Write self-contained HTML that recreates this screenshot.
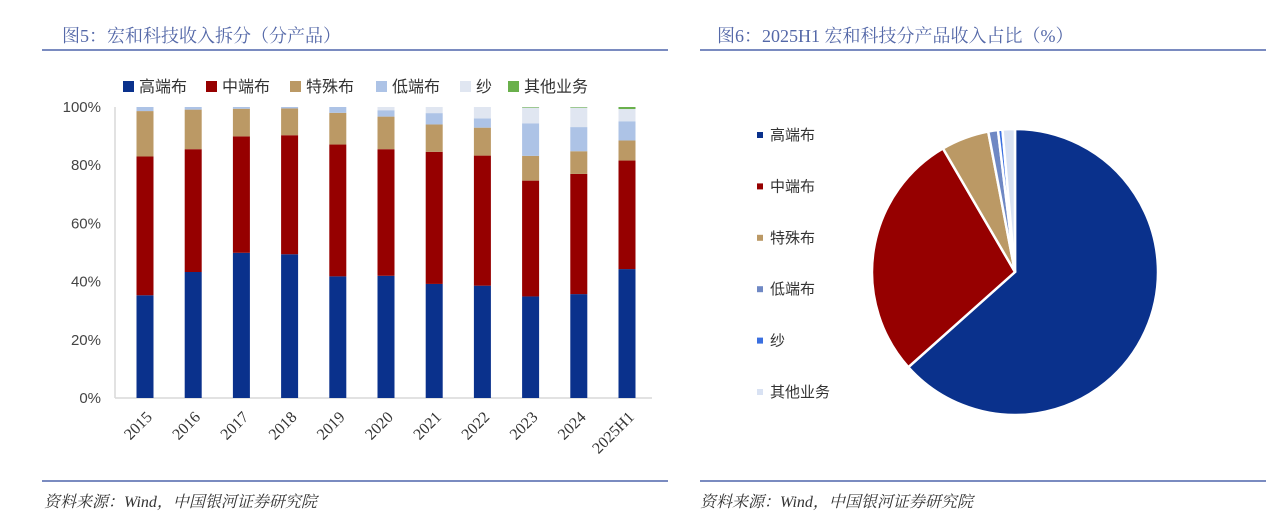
<!DOCTYPE html>
<html><head><meta charset="utf-8">
<style>
body{margin:0;width:1266px;height:528px;background:#fff;overflow:hidden;position:relative;font-family:"Liberation Serif","Noto Serif CJK SC",serif}
.t{position:absolute;color:#5468a8;font-size:18px;font-family:"Liberation Serif","Noto Serif CJK SC",serif}
.ln{position:absolute;height:2px;background:#7a8bc0}
.src{position:absolute;font-style:italic;font-size:16px;color:#333;font-family:"Liberation Serif","Noto Serif CJK SC",serif}
svg{position:absolute;left:0;top:0}
</style></head><body>
<div class="t" style="left:62px;top:22px">图5：宏和科技收入拆分（分产品）</div>
<div class="ln" style="left:42px;top:49px;width:626px"></div>
<div class="t" style="left:717px;top:22px">图6：2025H1 宏和科技分产品收入占比（%）</div>
<div class="ln" style="left:700px;top:49px;width:566px"></div>
<div class="ln" style="left:42px;top:480px;width:626px"></div>
<div class="ln" style="left:700px;top:480px;width:566px"></div>
<div class="src" style="left:44px;top:489px">资料来源：Wind，中国银河证券研究院</div>
<div class="src" style="left:700px;top:489px">资料来源：Wind，中国银河证券研究院</div>
<svg id="c" width="1266" height="528"></svg>
<script>
const categories=['2015','2016','2017','2018','2019','2020','2021','2022','2023','2024','2025H1'];
const seriesNames=['高端布','中端布','特殊布','低端布','纱','其他业务'];
const high=[35.3,43.3,49.9,49.4,41.8,42.0,39.2,38.6,34.9,35.7,44.3];
const mid=[47.7,42.2,40.0,40.9,45.3,43.5,45.4,44.7,39.8,41.3,37.3];
const special=[15.6,13.6,9.5,9.2,10.9,11.2,9.4,9.6,8.5,7.8,6.9];
const low=[1.4,0.9,0.6,0.5,2.0,2.2,3.9,3.2,11.2,8.3,6.6];
const yarn=[0,0,0,0,0,1.1,2.1,3.9,5.4,6.7,4.2];
const other=[0,0,0,0,0,0,0,0,0.2,0.2,0.7];
const yTicks=['0%','20%','40%','60%','80%','100%'];
const pieLabels=['高端布','中端布','特殊布','低端布','纱','其他业务'];
const pieValues=[63.4,28.2,5.4,1.1,0.5,1.4];
const barColors=['#0a318c','#960000','#bb9965','#adc3e6','#e0e6f1','#6ab04c'];
const pieColors=['#0a318c','#960000','#bb9965','#6f88c4','#3a6fe0','#d9e2f3'];
const NS='http://www.w3.org/2000/svg',svg=document.getElementById('c');
function mk(t,a,p){const e=document.createElementNS(NS,t);for(const k in a)e.setAttribute(k,a[k]);(p||svg).appendChild(e);return e;}
const y0=398,y1=107,xL=115,xR=652;
const y=v=>y0-(v/100)*(y0-y1);
const x=i=>145+i*48.2;
let e=mk('line',{x1:xL,y1:y1,x2:xL,y2:y0,stroke:'#d9d9d9','stroke-width':1.5});

e=mk('line',{x1:xL,y1:y0,x2:xR,y2:y0,stroke:'#d9d9d9','stroke-width':1.5});

yTicks.forEach((t,i)=>{const tx=mk('text',{x:101,y:y(i*20)+5,'text-anchor':'end','font-size':15,fill:'#444','font-family':'Liberation Sans,sans-serif'});tx.textContent=t;
});
const series=[high,mid,special,low,yarn,other];
categories.forEach((c,i)=>{let acc=0;
series.forEach((s,k)=>{const v=s[i];if(v<=0)return;const r=mk('rect',{x:x(i)-8.5,y:y(acc+v),width:17,height:y(acc)-y(acc+v),fill:barColors[k]});
acc+=v;});
const tx=mk('text',{x:0,y:0,'text-anchor':'end','font-size':16,fill:'#333',transform:`translate(${x(i)+8},${418}) rotate(-45)`});tx.textContent=c;
});
const legX=[123,206,290,376,460,508];
seriesNames.forEach((n,k)=>{const g=mk('g',{});
mk('rect',{x:legX[k],y:81,width:11,height:11,fill:barColors[k]},g);
const tx=mk('text',{x:legX[k]+16,y:92,'font-size':16,fill:'#333','font-family':'Liberation Sans,Noto Sans CJK SC,sans-serif'},g);tx.textContent=n;});
const cx=1015,cy=272,R=143;let tot=pieValues.reduce((a,b)=>a+b,0),ang=0;
pieValues.forEach((v,k)=>{const a0=ang/tot*2*Math.PI,a1=(ang+v)/tot*2*Math.PI;ang+=v;
const p=(a)=>[cx+R*Math.sin(a),cy-R*Math.cos(a)];const [xa,ya]=p(a0),[xb,yb]=p(a1);
const s=mk('path',{d:`M${cx},${cy}L${xa},${ya}A${R},${R} 0 ${a1-a0>Math.PI?1:0} 1 ${xb},${yb}Z`,fill:pieColors[k],stroke:'#fff','stroke-width':2.5});
});
pieLabels.forEach((n,k)=>{const g=mk('g',{});
const yy=135+k*51.4;mk('rect',{x:757,y:yy-3,width:6,height:6,fill:pieColors[k]},g);
const tx=mk('text',{x:770,y:yy+5,'font-size':15,fill:'#333','font-family':'Liberation Sans,Noto Sans CJK SC,sans-serif'},g);tx.textContent=n;});
</script>
</body></html>
